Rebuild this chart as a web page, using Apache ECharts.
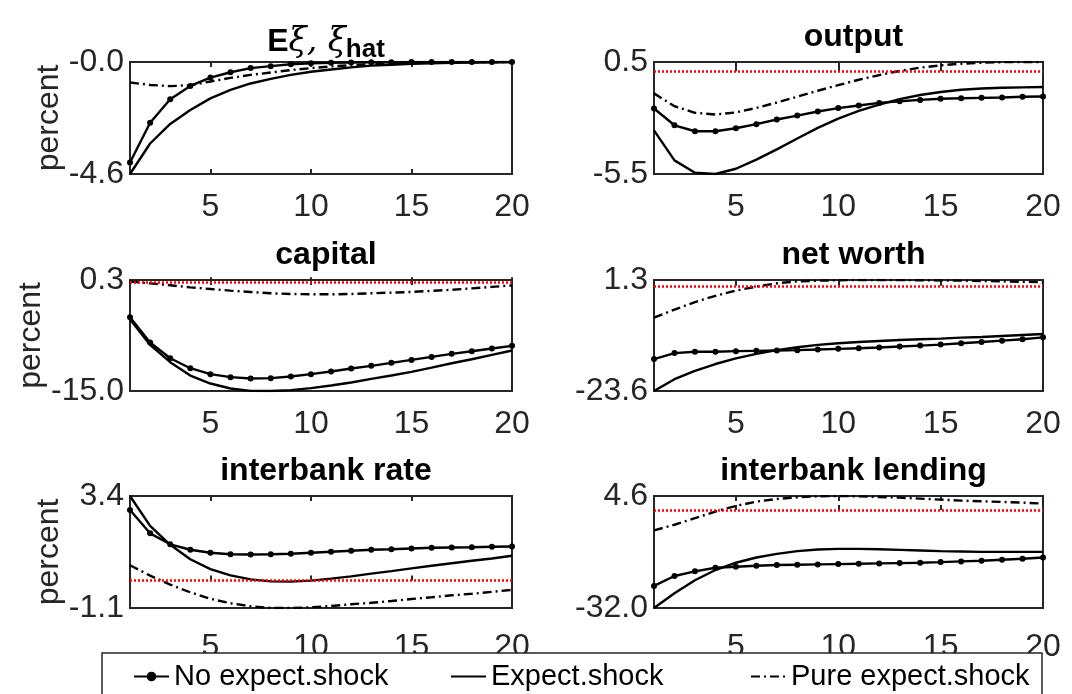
<!DOCTYPE html>
<html lang="en">
<head>
    <meta charset="UTF-8">
    <title>Impulse responses</title>
    <style>
        html, body { margin: 0; padding: 0; background: #fff; }
        #chart { width: 1072px; height: 694px; }
    </style>
</head>
<body>
    <div id="chart"></div>
    <script src="https://cdn.jsdelivr.net/npm/echarts@6.0.0/dist/echarts.min.js"></script>
    <script>
        // periods on the x axis
        var periods = [1, 2, 3, 4, 5, 6, 7, 8, 9, 10, 11, 12, 13, 14, 15, 16, 17, 18, 19, 20];
        var xTicks = [5, 10, 15, 20];
        var seriesNames = ['No expect.shock', 'Expect.shock', 'Pure expect.shock'];
        var panelTitles = ['E\u03be, \u03be_hat', 'output', 'capital', 'net worth', 'interbank rate', 'interbank lending'];
        var yMin = [-4.6, -5.5, -15.0, -23.6, -1.1, -32.0];
        var yMax = [-0.01, 0.5, 0.3, 1.3, 3.4, 4.6];

        // E xi, xi_hat
        var xiNoExp = [-4.13, -2.50, -1.54, -0.99, -0.65, -0.43, -0.26, -0.18, -0.10, -0.06, -0.04, -0.03, -0.02, -0.02, -0.01, -0.01, -0.01, -0.01, -0.01, -0.01];
        var xiExp = [-4.60, -3.35, -2.55, -1.98, -1.50, -1.15, -0.89, -0.70, -0.54, -0.41, -0.32, -0.23, -0.16, -0.12, -0.08, -0.06, -0.04, -0.03, -0.02, -0.01];
        var xiPure = [-0.85, -0.95, -1.00, -0.96, -0.81, -0.66, -0.54, -0.44, -0.34, -0.26, -0.19, -0.14, -0.10, -0.07, -0.05, -0.04, -0.03, -0.02, -0.01, -0.01];
        // output
        var outNoExp = [-1.99, -2.89, -3.21, -3.21, -3.05, -2.83, -2.58, -2.37, -2.15, -1.97, -1.83, -1.69, -1.60, -1.53, -1.47, -1.44, -1.42, -1.40, -1.36, -1.35];
        var outExp = [-3.16, -4.77, -5.43, -5.50, -5.22, -4.73, -4.18, -3.60, -3.03, -2.53, -2.12, -1.78, -1.49, -1.27, -1.11, -0.99, -0.92, -0.88, -0.86, -0.84];
        var outPure = [-1.18, -1.87, -2.22, -2.31, -2.20, -1.96, -1.67, -1.36, -1.04, -0.74, -0.45, -0.20, 0.02, 0.20, 0.32, 0.41, 0.46, 0.49, 0.50, 0.50];
        // capital
        var capNoExp = [-4.84, -8.32, -10.48, -11.86, -12.68, -13.09, -13.28, -13.23, -13.00, -12.68, -12.31, -11.90, -11.53, -11.12, -10.71, -10.30, -9.88, -9.52, -9.15, -8.78];
        var capExp = [-5.11, -8.65, -11.03, -12.87, -13.97, -14.65, -14.98, -15.00, -14.88, -14.60, -14.24, -13.83, -13.32, -12.87, -12.36, -11.77, -11.17, -10.62, -10.02, -9.42];
        var capPure = [0.07, -0.16, -0.43, -0.71, -0.94, -1.17, -1.35, -1.53, -1.63, -1.67, -1.67, -1.63, -1.53, -1.44, -1.35, -1.20, -1.05, -0.85, -0.65, -0.45];
        // net worth
        var nwNoExp = [-16.44, -15.10, -14.81, -14.81, -14.66, -14.59, -14.52, -14.44, -14.30, -14.15, -14.00, -13.85, -13.63, -13.41, -13.19, -12.89, -12.60, -12.30, -12.00, -11.56];
        var nwExp = [-23.60, -20.95, -19.10, -17.55, -16.29, -15.26, -14.44, -13.78, -13.26, -12.89, -12.60, -12.37, -12.15, -12.00, -11.86, -11.63, -11.49, -11.26, -11.04, -10.82];
        var nwPure = [-7.13, -5.35, -3.65, -2.25, -1.07, -0.18, 0.56, 1.00, 1.15, 1.25, 1.30, 1.30, 1.28, 1.25, 1.20, 1.15, 1.08, 1.00, 0.90, 0.80];
        // interbank rate
        var irNoExp = [2.84, 1.90, 1.46, 1.24, 1.12, 1.06, 1.05, 1.06, 1.08, 1.12, 1.16, 1.20, 1.24, 1.26, 1.29, 1.32, 1.33, 1.34, 1.36, 1.37];
        var irExp = [3.40, 2.20, 1.44, 0.86, 0.46, 0.21, 0.05, -0.03, -0.04, 0.00, 0.08, 0.17, 0.28, 0.38, 0.49, 0.60, 0.70, 0.80, 0.89, 1.00];
        var irPure = [0.62, 0.20, -0.16, -0.47, -0.73, -0.91, -1.03, -1.10, -1.10, -1.07, -1.02, -0.95, -0.89, -0.82, -0.74, -0.67, -0.59, -0.53, -0.45, -0.37];
        // interbank lending
        var ilNoExp = [-24.77, -21.53, -20.02, -18.83, -18.51, -18.19, -17.97, -17.86, -17.75, -17.65, -17.54, -17.43, -17.32, -17.21, -17.00, -16.78, -16.57, -16.24, -15.92, -15.49];
        var ilExp = [-32.00, -27.15, -22.94, -19.59, -17.21, -15.49, -14.30, -13.43, -12.89, -12.68, -12.68, -12.79, -13.00, -13.22, -13.43, -13.54, -13.65, -13.65, -13.65, -13.65];
        var ilPure = [-6.63, -4.80, -2.64, -0.48, 1.36, 2.76, 3.63, 4.17, 4.49, 4.60, 4.49, 4.28, 4.06, 3.74, 3.41, 3.09, 2.87, 2.66, 2.44, 2.12];

        var panelData = [
            [xiNoExp, xiExp, xiPure],
            [outNoExp, outExp, outPure],
            [capNoExp, capExp, capPure],
            [nwNoExp, nwExp, nwPure],
            [irNoExp, irExp, irPure],
            [ilNoExp, ilExp, ilPure]
        ];

        // layout of the 3x2 panels
        var colLeft = [130, 654];
        var colWidth = [382, 389];
        var rowTop = [62, 280, 496];
        var rowHeight = [112, 111, 112];
        var labelMargin = [17, 17, 23];
        var FONT = 'Liberation Sans, Arial, sans-serif';
        var AXIS_COLOR = '#262626';

        var lineStyles = [
            { color: '#000', width: 2.4, type: 'solid' },
            { color: '#000', width: 2.4, type: 'solid' },
            { color: '#000', width: 2.4, type: [9, 4, 2, 4] }
        ];

        function pairs(arr) {
            return arr.map(function (v, i) { return [periods[i], v]; });
        }

        var grid = [], xAxis = [], yAxis = [], series = [], title = [];

        for (var p = 0; p < 6; p++) {
            var col = p % 2, row = Math.floor(p / 2);
            grid.push({
                left: colLeft[col], top: rowTop[row],
                width: colWidth[col], height: rowHeight[row],
                show: true, borderColor: AXIS_COLOR, borderWidth: 2, backgroundColor: '#fff'
            });
            // bottom axis with labels
            xAxis.push({
                gridIndex: p, type: 'value', min: 1, max: 20, position: 'bottom',
                axisLine: { show: false },
                splitLine: { show: false },
                axisTick: { show: true, inside: true, length: 5, lineStyle: { color: AXIS_COLOR, width: 2 }, customValues: xTicks },
                axisLabel: { color: AXIS_COLOR, fontSize: 32, fontFamily: FONT, margin: labelMargin[row], customValues: xTicks }
            });
            // top axis: ticks only
            xAxis.push({
                gridIndex: p, type: 'value', min: 1, max: 20, position: 'top',
                axisLine: { show: false },
                splitLine: { show: false },
                axisTick: { show: true, inside: true, length: 5, lineStyle: { color: AXIS_COLOR, width: 2 }, customValues: [5, 10, 15] },
                axisLabel: { show: false }
            });
            yAxis.push({
                gridIndex: p, type: 'value', min: yMin[p], max: yMax[p],
                name: col === 0 ? 'percent' : '',
                nameLocation: 'middle', nameGap: 62,
                nameTextStyle: { color: AXIS_COLOR, fontSize: 32, fontFamily: FONT },
                axisLine: { show: false },
                splitLine: { show: false },
                axisTick: { show: false },
                axisLabel: {
                    color: AXIS_COLOR, fontSize: 32, fontFamily: FONT, margin: 6,
                    customValues: [yMin[p], yMax[p]],
                    formatter: function (v) { return v.toFixed(1); }
                }
            });

            title.push({
                text: p === 0 ? '{b|E}{n|\u03be, \u03be}{s|hat}' : panelTitles[p],
                left: colLeft[col] + colWidth[col] / 2,
                top: rowTop[row] - 46,
                textAlign: 'center',
                textStyle: {
                    color: '#000', fontSize: 32, fontWeight: 'bold', fontFamily: FONT,
                    rich: {
                        b: { fontSize: 32, fontWeight: 'bold', fontFamily: FONT, color: '#000' },
                        n: { fontSize: 33, fontWeight: 'normal', fontStyle: 'italic', fontFamily: 'DejaVu Serif, serif', color: '#000' },
                        s: { fontSize: 26, fontWeight: 'bold', fontFamily: FONT, color: '#000', padding: [16, 0, 0, 0] }
                    }
                }
            });

            for (var s = 0; s < 3; s++) {
                var item = {
                    name: seriesNames[s],
                    type: 'line',
                    xAxisIndex: p * 2,
                    yAxisIndex: p,
                    data: pairs(panelData[p][s]),
                    lineStyle: lineStyles[s],
                    itemStyle: { color: '#000' },
                    symbol: s === 0 ? 'circle' : 'none',
                    symbolSize: 6,
                    showSymbol: s === 0,
                    z: 3
                };
                if (s === 0 && p > 0) {
                    item.markLine = {
                        silent: true, symbol: ['none', 'none'],
                        label: { show: false },
                        lineStyle: { color: '#ff0000', type: [2, 2], width: 2.5 },
                        data: [{ yAxis: 0 }]
                    };
                }
                series.push(item);
            }
        }

        var legendBase = {
            itemWidth: 35, itemHeight: 12, top: 657,
            textStyle: { color: '#000', fontSize: 29, fontFamily: FONT },
            z: 12, selectedMode: false
        };
        var legendLeft = [128, 445, 745];
        var legend = seriesNames.map(function (n, i) {
            var lg = Object.assign({}, legendBase, { data: [n], left: legendLeft[i] });
            if (i > 0) lg.itemStyle = { opacity: 0 };   // line only, no marker
            return lg;
        });

        var chart = echarts.init(document.getElementById('chart'), null, { renderer: 'canvas' });
        chart.setOption({
            animation: false,
            backgroundColor: '#fff',
            title: title,
            grid: grid,
            xAxis: xAxis,
            yAxis: yAxis,
            legend: legend,
            graphic: [{
                type: 'rect', z: 10,
                shape: { x: 102, y: 653, width: 940, height: 50 },
                style: { fill: '#fff', stroke: AXIS_COLOR, lineWidth: 1.5 }
            }],
            series: series
        });
    </script>
</body>
</html>
